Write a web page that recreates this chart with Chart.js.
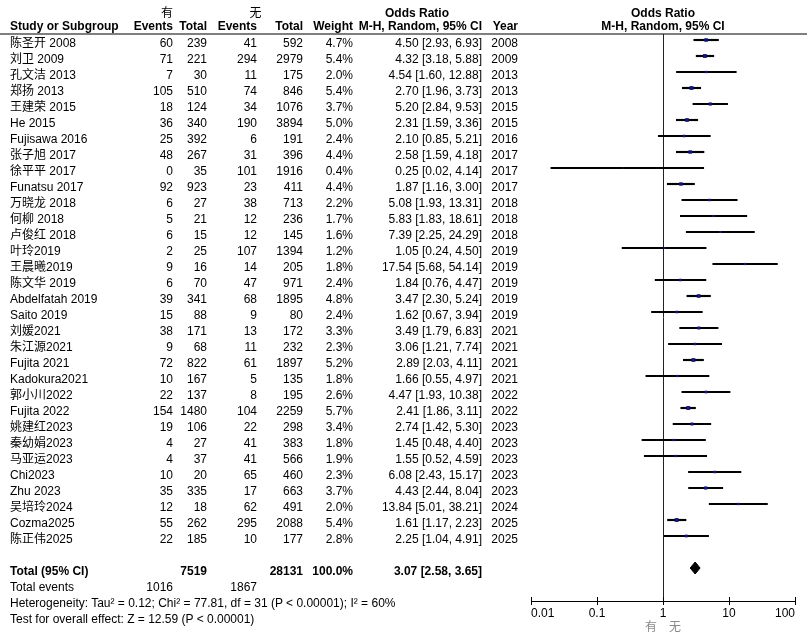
<!DOCTYPE html>
<html><head><meta charset="utf-8">
<script src="https://cdn.jsdelivr.net/npm/chart.js@4/dist/chart.umd.min.js"></script>
<style>
html,body{margin:0;padding:0;background:#fff;}
#wrap{position:relative;width:807px;height:640px;overflow:hidden;font-family:"Liberation Sans",Arial,"Noto Sans CJK SC",sans-serif;font-size:12px;color:#000;}
#c{position:absolute;left:0;top:0;}
.t{position:absolute;white-space:nowrap;line-height:14px;height:14px;}
.b{font-weight:bold;}
.c{text-align:center;width:400px;}
</style></head><body>
<div id="wrap"><canvas id="c" width="807" height="640"></canvas><div id="txt"></div></div>
<script>
// ---------------- data ----------------
const studies = ["陈圣开 2008","刘卫 2009","孔文洁 2013","郑扬 2013","王建荣 2015","He 2015","Fujisawa 2016","张子旭 2017","徐平平 2017","Funatsu 2017","万晓龙 2018","何柳 2018","卢俊红 2018","叶玲2019","王晨曦2019","陈文华 2019","Abdelfatah 2019","Saito 2019","刘媛2021","朱江源2021","Fujita 2021","Kadokura2021","郭小川2022","Fujita 2022","姚建红2023","秦幼娟2023","马亚运2023","Chi2023","Zhu 2023","吴培玲2024","Cozma2025","陈正伟2025"];
const eventsYes = [60,71,7,105,18,36,25,48,0,92,6,5,6,2,9,6,39,15,38,9,72,10,22,154,19,4,4,10,35,12,55,22];
const totalYes  = [239,221,30,510,124,340,392,267,35,923,27,21,15,25,16,70,341,88,171,68,822,167,137,1480,106,27,37,20,335,18,262,185];
const eventsNo  = [41,294,11,74,34,190,6,31,101,23,38,12,12,107,14,47,68,9,13,11,61,5,8,104,22,41,41,65,17,62,295,10];
const totalNo   = [592,2979,175,846,1076,3894,191,396,1916,411,713,236,145,1394,205,971,1895,80,172,232,1897,135,195,2259,298,383,566,460,663,491,2088,177];
const weights   = [4.7,5.4,2.0,5.4,3.7,5.0,2.4,4.4,0.4,4.4,2.2,1.7,1.6,1.2,1.8,2.4,4.8,2.4,3.3,2.3,5.2,1.8,2.6,5.7,3.4,1.8,1.9,2.3,3.7,2.0,5.4,2.8];
const oddsRatio = [4.50,4.32,4.54,2.70,5.20,2.31,2.10,2.58,0.25,1.87,5.08,5.83,7.39,1.05,17.54,1.84,3.47,1.62,3.49,3.06,2.89,1.66,4.47,2.41,2.74,1.45,1.55,6.08,4.43,13.84,1.61,2.25];
const ciLower   = [2.93,3.18,1.60,1.96,2.84,1.59,0.85,1.59,0.02,1.16,1.93,1.83,2.25,0.24,5.68,0.76,2.30,0.67,1.79,1.21,2.03,0.55,1.93,1.86,1.42,0.48,0.52,2.43,2.44,5.01,1.17,1.04];
const ciUpper   = [6.93,5.88,12.88,3.73,9.53,3.36,5.21,4.18,4.14,3.00,13.31,18.61,24.29,4.50,54.14,4.47,5.24,3.94,6.83,7.74,4.11,4.97,10.38,3.11,5.30,4.40,4.59,15.17,8.04,38.21,2.23,4.91];
const years     = [2008,2009,2013,2013,2015,2015,2016,2017,2017,2017,2018,2018,2018,2019,2019,2019,2019,2019,2021,2021,2021,2021,2022,2022,2023,2023,2023,2023,2023,2024,2025,2025];
const pooledOR  = [3.07, 2.58, 3.65];          // estimate, lower, upper
const pooledTotals = [7519, 28131];            // total 有, total 无
const pooledEvents = [1016, 1867];             // events 有, events 无
const pooledWeight = "100.0%";
const heterogeneityText = "Heterogeneity: Tau² = 0.12; Chi² = 77.81, df = 31 (P < 0.00001); I² = 60%";
const overallText = "Test for overall effect: Z = 12.59 (P < 0.00001)";
const xTicks = [0.01, 0.1, 1, 10, 100];
const groupLabels = ["有", "无"];

// ---------------- layout / style ----------------
const FONT = '"Liberation Sans", Arial, "Noto Sans CJK SC", sans-serif';
const NAVY = '#15157e';
const col = {name:10, evY:173, totY:207, evN:257, totN:303, wt:353, ci:482, yr:518};
const rowIdx = studies.map((_, i) => i);
const totalRow = studies.length + 1;
const fmtCI = (o, l, u) => `${o.toFixed(2)} [${l.toFixed(2)}, ${u.toFixed(2)}]`;
const side = w => Math.max(1.2, 1.65 * Math.sqrt(w));
const dH = 0.375;

const decor = {
  id: 'decor',
  beforeDatasetsDraw(chart) {
    const {ctx, chartArea, scales} = chart;
    ctx.save();
    ctx.strokeStyle = '#000';
    ctx.lineWidth = 1.2;
    ctx.beginPath(); ctx.moveTo(0, chartArea.top); ctx.lineTo(chart.width, chartArea.top); ctx.stroke();
    const x1 = Math.round(scales.x.getPixelForValue(1)) + 0.5;
    ctx.strokeStyle = '#222'; ctx.lineWidth = 1;
    ctx.beginPath(); ctx.moveTo(x1, chartArea.top); ctx.lineTo(x1, chartArea.bottom); ctx.stroke();
    ctx.restore();
  },
  afterDraw(chart) {
    const {ctx, chartArea, scales} = chart;
    ctx.save();
    ctx.strokeStyle = '#000'; ctx.lineWidth = 1;
    xTicks.forEach(v => {
      const px = Math.round(scales.x.getPixelForValue(v)) + 0.5;
      ctx.beginPath(); ctx.moveTo(px, chartArea.bottom - 4); ctx.lineTo(px, chartArea.bottom); ctx.stroke();
    });
    ctx.restore();
  }
};

const chart = new Chart(document.getElementById('c'), {
  type: 'scatter',
  data: {
    datasets: [
      {
        type: 'scatter', label: 'OR',
        data: rowIdx.map(i => ({x: oddsRatio[i], y: i})),
        pointStyle: 'rect',
        pointRadius: c => side(weights[c.dataIndex]) / Math.SQRT2,
        pointHoverRadius: c => side(weights[c.dataIndex]) / Math.SQRT2,
        backgroundColor: NAVY, borderColor: NAVY, borderWidth: 0,
        order: 0
      },
      {
        type: 'line', label: 'Total',
        data: [
          {x: pooledOR[1], y: totalRow},
          {x: pooledOR[0], y: totalRow - dH},
          {x: pooledOR[2], y: totalRow},
          {x: pooledOR[0], y: totalRow + dH},
          {x: pooledOR[1], y: totalRow}
        ],
        fill: 'shape', backgroundColor: '#000', borderColor: '#000', borderWidth: 1,
        pointRadius: 0, tension: 0, order: 0
      },
      {
        type: 'bar', label: 'CI', indexAxis: 'y',
        data: rowIdx.map(i => ({x: [ciLower[i], ciUpper[i]], y: i})),
        backgroundColor: '#000', borderWidth: 0, barThickness: 1.5,
        order: 1
      }
    ]
  },
  options: {
    responsive: false, animation: false, events: [],
    layout: {padding: {left: 531, right: 12, top: 34, bottom: 0}},
    plugins: {legend: {display: false}, tooltip: {enabled: false}},
    scales: {
      x: {
        type: 'logarithmic', min: 0.01, max: 100, position: 'bottom', offset: false,
        afterBuildTicks: s => { s.ticks = xTicks.map(v => ({value: v})); },
        afterFit: s => { s.height = 39; },
        grid: {display: true, offset: false, drawOnChartArea: false, drawTicks: true, tickLength: 4, color: '#000', lineWidth: 1},
        border: {display: true, color: '#000', width: 1},
        ticks: {align: 'inner', autoSkip: false, maxRotation: 0, minRotation: 0, padding: 1, color: '#000',
                font: {family: FONT, size: 12}, callback: v => String(v)},
        title: {display: true, text: groupLabels.join('　'), color: '#8a8a8a',
                font: {family: FONT, size: 12}, padding: {top: 0, bottom: 5}}
      },
      y: {
        type: 'linear', display: false, reverse: true, offset: false, beginAtZero: false,
        min: -0.375, max: 35.0625,
        grid: {offset: false}
      }
    }
  },
  plugins: [decor]
});

// ---------------- table text ----------------
const txt = document.getElementById('txt');
function put(str, x, yc, align, bold) {
  const d = document.createElement('div');
  d.className = 't' + (bold ? ' b' : '') + (align === 'center' ? ' c' : '');
  d.textContent = str;
  d.style.top = (yc - 7) + 'px';
  if (align === 'right') d.style.right = (807 - x) + 'px';
  else if (align === 'center') d.style.left = (x - 200) + 'px';
  else d.style.left = x + 'px';
  txt.appendChild(d);
}
const ys = chart.scales.y;
const rowY = i => ys.getPixelForValue(i) + 3;
const xOne = chart.scales.x.getPixelForValue(1);

// headers
put(groupLabels[0], 167, 12.5, 'center');
put(groupLabels[1], 255.5, 12.5, 'center');
put('Odds Ratio', 417, 12.5, 'center', true);
put('Odds Ratio', xOne, 12.5, 'center', true);
put('Study or Subgroup', col.name, 25.5, 'left', true);
put('Events', col.evY, 25.5, 'right', true);
put('Total', col.totY, 25.5, 'right', true);
put('Events', col.evN, 25.5, 'right', true);
put('Total', col.totN, 25.5, 'right', true);
put('Weight', col.wt, 25.5, 'right', true);
put('M-H, Random, 95% CI', col.ci, 25.5, 'right', true);
put('Year', col.yr, 25.5, 'right', true);
put('M-H, Random, 95% CI', xOne, 25.5, 'center', true);

rowIdx.forEach(i => {
  const y = rowY(i);
  put(studies[i], col.name, y, 'left');
  put(String(eventsYes[i]), col.evY, y, 'right');
  put(String(totalYes[i]), col.totY, y, 'right');
  put(String(eventsNo[i]), col.evN, y, 'right');
  put(String(totalNo[i]), col.totN, y, 'right');
  put(weights[i].toFixed(1) + '%', col.wt, y, 'right');
  put(fmtCI(oddsRatio[i], ciLower[i], ciUpper[i]), col.ci, y, 'right');
  put(String(years[i]), col.yr, y, 'right');
});

const yt = rowY(totalRow);
put('Total (95% CI)', col.name, yt, 'left', true);
put(String(pooledTotals[0]), col.totY, yt, 'right', true);
put(String(pooledTotals[1]), col.totN, yt, 'right', true);
put(pooledWeight, col.wt, yt, 'right', true);
put(fmtCI(pooledOR[0], pooledOR[1], pooledOR[2]), col.ci, yt, 'right', true);
const ye = rowY(totalRow + 1);
put('Total events', col.name, ye, 'left');
put(String(pooledEvents[0]), col.evY, ye, 'right');
put(String(pooledEvents[1]), col.evN, ye, 'right');
put(heterogeneityText, col.name, rowY(totalRow + 2), 'left');
put(overallText, col.name, rowY(totalRow + 3), 'left');
</script>
</body></html>
